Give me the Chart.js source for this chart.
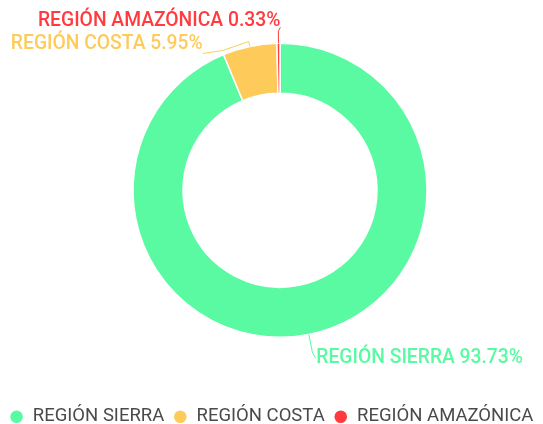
<!DOCTYPE html>
<html>
<head>
<meta charset="utf-8">
<script src="https://cdn.jsdelivr.net/npm/chart.js@4/dist/chart.umd.min.js"></script>
<style>
  html, body { margin: 0; padding: 0; background: #fff; }
  #wrap { width: 543px; height: 424px; }
</style>
</head>
<body>
<div id="wrap"><canvas id="chart"></canvas></div>
<script>
const regiones = ["REGIÓN SIERRA", "REGIÓN COSTA", "REGIÓN AMAZÓNICA"];
const porcentajes = [93.73, 5.95, 0.33];
const colores = ["#5afaa3", "#fecb5b", "#ff3b3f"];

// recorrido de la guía de cada etiqueta, a partir del borde de su porción
const etiquetas = [
  { salida: 18, pasos: [[3, 6]], texto: [1, 0], align: "left" },
  { salida: 5, pasos: [[-26, 9], [-20, 3]], texto: [0, -9], align: "right" },
  { salida: 12, pasos: [[2, -4]], texto: [0, -6], align: "right" }
];

// mueve el área del gráfico para centrar la dona como en el original
const desplazamiento = { x: 8.5, y: -9 };

const moverArea = {
  id: "moverArea",
  afterLayout(chart) {
    const a = chart.chartArea;
    a.left += desplazamiento.x;
    a.right += desplazamiento.x;
    a.top += desplazamiento.y;
    a.bottom += desplazamiento.y;
  }
};

const etiquetasExternas = {
  id: "etiquetasExternas",
  afterDatasetsDraw(chart) {
    const ctx = chart.ctx;
    const arcos = chart.getDatasetMeta(0).data;
    ctx.save();
    ctx.font = "500 19.3px Roboto";
    ctx.textBaseline = "middle";
    arcos.forEach((arco, i) => {
      const cfg = etiquetas[i];
      const ang = (arco.startAngle + arco.endAngle) / 2;
      const r = arco.outerRadius;
      let x = arco.x + Math.cos(ang) * r;
      let y = arco.y + Math.sin(ang) * r;
      ctx.strokeStyle = colores[i];
      ctx.lineWidth = 1;
      ctx.beginPath();
      ctx.moveTo(x, y);
      x = arco.x + Math.cos(ang) * (r + cfg.salida);
      y = arco.y + Math.sin(ang) * (r + cfg.salida);
      ctx.lineTo(x, y);
      cfg.pasos.forEach(p => {
        x += p[0];
        y += p[1];
        ctx.lineTo(x, y);
      });
      ctx.stroke();
      ctx.fillStyle = colores[i];
      ctx.textAlign = cfg.align;
      ctx.fillText(regiones[i] + " " + porcentajes[i].toFixed(2) + "%", x + cfg.texto[0], y + cfg.texto[1]);
    });
    ctx.restore();
  }
};

new Chart(document.getElementById("chart").getContext("2d"), {
  type: "doughnut",
  data: {
    labels: regiones,
    datasets: [{
      data: porcentajes,
      backgroundColor: colores,
      borderColor: "#fff",
      borderWidth: 1.5,
      hoverOffset: 0,
      radius: 147,
      cutout: "66%"
    }]
  },
  options: {
    responsive: true,
    maintainAspectRatio: false,
    animation: false,
    layout: { padding: { top: 0, left: 0, right: 0, bottom: -12 } },
    plugins: {
      tooltip: { enabled: false },
      legend: {
        position: "bottom",
        labels: {
          usePointStyle: true,
          pointStyle: "circle",
          boxWidth: 14,
          boxHeight: 10,
          padding: 9,
          color: "#4a4a4a",
          font: { family: "Roboto", size: 18.5 }
        }
      }
    }
  },
  plugins: [moverArea, etiquetasExternas]
});
</script>
</body>
</html>
